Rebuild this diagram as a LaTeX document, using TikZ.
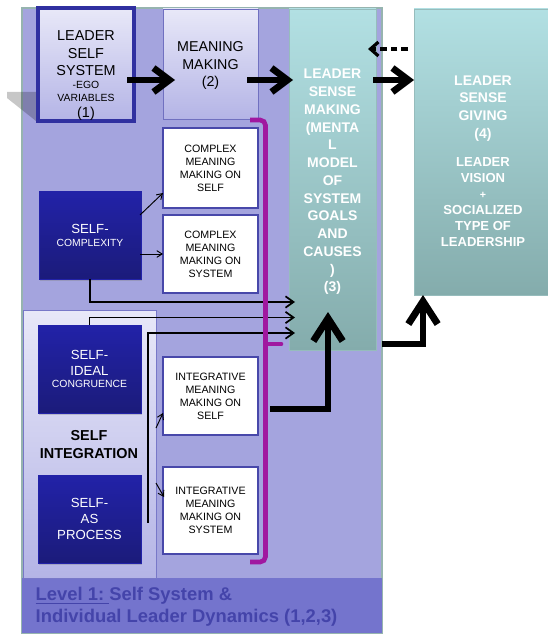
\documentclass[tikz,border=0pt]{standalone}
\usepackage{fontspec}
\setmainfont{Liberation Sans}
\usetikzlibrary{arrows.meta}
\usetikzlibrary{shadows}

\definecolor{panelblue}{RGB}{164,164,222}
\definecolor{framegrey}{RGB}{150,180,175}
\definecolor{bandblue}{RGB}{116,116,205}
\definecolor{leveltext}{RGB}{68,68,170}
\definecolor{darktop}{RGB}{34,34,168}
\definecolor{darkbot}{RGB}{27,27,122}
\definecolor{boxedge}{RGB}{72,72,170}
\definecolor{lssedge}{RGB}{48,48,160}
\definecolor{mmedge}{RGB}{112,112,192}
\definecolor{siedge}{RGB}{120,120,200}
\definecolor{lightlav}{RGB}{232,232,248}
\definecolor{midlav}{RGB}{180,180,230}
\definecolor{tealtop}{RGB}{178,224,227}
\definecolor{tealbot}{RGB}{132,172,172}
\definecolor{tealedge}{RGB}{150,188,188}
\definecolor{bracketpurple}{RGB}{160,24,160}

\tikzset{
  wh/.style 2 args={minimum width=#1*0.75pt, minimum height=#2*0.75pt, inner sep=0pt, outer sep=0pt},
  whitebox/.style={draw=boxedge, line width=2.2pt, fill=white, align=center, font=\fontsize{8}{9.75}\selectfont},
  darkself/.style={top color=darktop, bottom color=darkbot, draw=darktop, line width=0.4pt, align=center, text=white,
    drop shadow={shadow xshift=0.6pt, shadow yshift=-1.3pt, opacity=0.35}},
  tealbox/.style={top color=tealtop, bottom color=tealbot, draw=tealedge, line width=0.6pt},
  toparrow/.style={line width=5pt, -{Straight Barb[length=12pt, width=18pt]}},
  fatarrow/.style={line width=5.2pt, -{Straight Barb[length=17pt, width=22pt]}},
  linkarrow/.style={line width=1.3pt, -{Straight Barb[length=6pt, width=8.5pt]}},
  thinarrow/.style={line width=0.7pt, -{Straight Barb[length=4pt, width=5pt]}},
  bracketline/.style={draw=bracketpurple, line width=3.5pt}
}

\begin{document}
\begin{tikzpicture}[x=0.75pt,y=0.75pt,yscale=-1,xscale=1]
\useasboundingbox (0,0) rectangle (547,635);

%Shape: Rectangle [id:panel] 
\draw [draw=framegrey, fill=panelblue, line width=0.8pt] (22,8) rectangle (382,633);
%Shape: Polygon [id:greyflap] 
\fill [black, fill opacity=0.22] (7,92) -- (38,92) -- (38,121) -- (36,121) -- (7,98) -- cycle;
%Shape: Rectangle [id:levelband] 
\fill [bandblue] (22,578) rectangle (382,633);
%Shape: Rectangle [id:integrationpanel] 
\draw [draw=siedge, top color=lightlav, bottom color=midlav, line width=0.6pt] (23,310) rectangle (156,578);

%Shape: Boxes of level 1
\node [wh={96}{113}, draw=lssedge, line width=3pt, top color=lightlav, bottom color=midlav] (lss) at (86,64.5) {};
\node [wh={95}{110}, draw=mmedge, line width=0.6pt, top color=lightlav, bottom color=midlav] (mm) at (210.5,64) {};
\node [wh={87}{341}, tealbox] (lsm) at (332.5,179.5) {};
\node [wh={138}{286}, tealbox] (lsg) at (483,152) {};

\node [wh={95}{80}, whitebox] (cms) at (210.5,168) {COMPLEX\\MEANING\\MAKING ON\\SELF};
\node [wh={95}{78}, whitebox] (cmy) at (210.5,254) {COMPLEX\\MEANING\\MAKING ON\\SYSTEM};
\node [wh={95}{78}, whitebox] (ims) at (210.5,396) {INTEGRATIVE\\MEANING\\MAKING ON\\SELF};
\node [wh={95}{87}, whitebox] (imy) at (210.5,510.5) {INTEGRATIVE\\MEANING\\MAKING ON\\SYSTEM};

\node [wh={102}{88}, darkself, font=\fontsize{9.9}{9.75}\selectfont] (sc) at (90,235) {SELF-\\{\fontsize{7.75}{9}\selectfont COMPLEXITY}};
\node [wh={103}{88}, darkself, font=\fontsize{9.9}{12}\selectfont] (sic) at (89.5,369) {SELF-\\IDEAL\\[-2.6pt]{\fontsize{7.8}{9}\selectfont CONGRUENCE}};
\node [wh={103}{88}, darkself, font=\fontsize{9.9}{12}\selectfont] (sap) at (89.5,519) {SELF-\\AS\\PROCESS};

% Text Node
\node [align=center, font=\fontsize{10.8}{13.1}\selectfont] (lsstxt) at (86,53.5) {LEADER\\SELF\\SYSTEM};
% Text Node
\node [align=center, font=\fontsize{7.8}{9.8}\selectfont] (lssego) at (86,91.5) {-EGO\\VARIABLES};
% Text Node
\node [font=\fontsize{10.8}{13.1}\selectfont] (lssnum) at (86,114) {(1)};
% Text Node
\node [align=center, font=\fontsize{10.7}{13.1}\selectfont] (mmtxt) at (210.5,65.5) {MEANING\\MAKING\\(2)};
% Text Node
\node [align=center, text=white, font=\bfseries\fontsize{10.5}{13.3}\selectfont] (lsmtxt) at (332.5,182) {LEADER\\SENSE\\MAKING\\(MENTA\\L\\MODEL\\OF\\SYSTEM\\GOALS\\AND\\CAUSES\\)\\(3)};
% Text Node
\node [align=center, text=white, font=\bfseries\fontsize{10.5}{13.3}\selectfont] (lsgtop) at (483,108.5) {LEADER\\SENSE\\GIVING\\(4)};
% Text Node
\node [align=center, text=white, font=\bfseries\fontsize{9.8}{12}\selectfont] (lsgvis) at (483,202) {LEADER\\VISION\\{\fontsize{8}{12}\selectfont +}\\SOCIALIZED\\TYPE OF\\LEADERSHIP};
% Text Node
\node [align=center, font=\bfseries\fontsize{10.8}{13.5}\selectfont] (sitxt) at (89,445) {SELF\\INTEGRATION};
% Text Node
\node [anchor=west, align=left, text=leveltext, font=\bfseries\fontsize{13.8}{16.5}\selectfont] (leveltxt) at (31,607) {\underline{Level 1:\ }Self System \&\\Individual Leader Dynamics (1,2,3)};

%Straight Lines [id:main flow] 
\draw [toparrow] ([shift={(-7,15.5)}]lss.east) -- ([shift={(12,16)}]mm.west);
\draw [toparrow] ([shift={(-11,16)}]mm.east) -- ([shift={(4,-99.5)}]lsm.west);
\draw [toparrow] ([shift={(-3,-99.5)}]lsm.east) -- ([shift={(0,-72)}]lsg.west);
%Straight Lines [id:feedback] 
\draw [line width=2.4pt, dash pattern=on 5pt off 3pt, -{Straight Barb[length=6pt, width=10.5pt, line width=2.4pt]}] ([shift={(-6,-103)}]lsg.west) -- ([shift={(-8,-130.5)}]lsm.east);

%Straight Lines [id:complexity] 
\draw [thinarrow] ([shift={(-1,-20)}]sc.east) -- ([shift={(0,25)}]cms.west);
\draw [thinarrow] ([shift={(-1,19)}]sc.east) -- (cmy.west);

%Straight Lines [id:integration] 
\coordinate (vbot) at (148,523);
\coordinate (tapself) at (156,428);
\coordinate (tapsys) at (156,483);
\draw [thinarrow] (tapself) -- ([shift={(0,17)}]ims.west);
\draw [thinarrow] (tapsys) -- ([shift={(1,-13.5)}]imy.west);

%Straight Lines [id:into sense making] 
\draw [linkarrow] (sc.south) |- ([shift={(6,122.5)}]lsm.west);
\draw [linkarrow] (sic.north) |- ([shift={(6,138)}]lsm.west);
\draw [linkarrow] (vbot) |- ([shift={(6,153.5)}]lsm.west);

%Shape: Bracket [id:purple] 
\draw [bracketline, rounded corners=4pt] (250,120) -- (265.5,120) -- (265.5,562) -- (250,562);
\draw [bracketline, line cap=round] (265.5,344) -- (281,344);

%Straight Lines [id:upward] 
\draw [fatarrow] ([shift={(12,13)}]ims.east) -| ([shift={(-4.5,-38)}]lsm.south);
\draw [fatarrow] ([shift={(6,-6)}]lsm.south east) -| ([shift={(9,0)}]lsg.south west);

\end{tikzpicture}
\end{document}
